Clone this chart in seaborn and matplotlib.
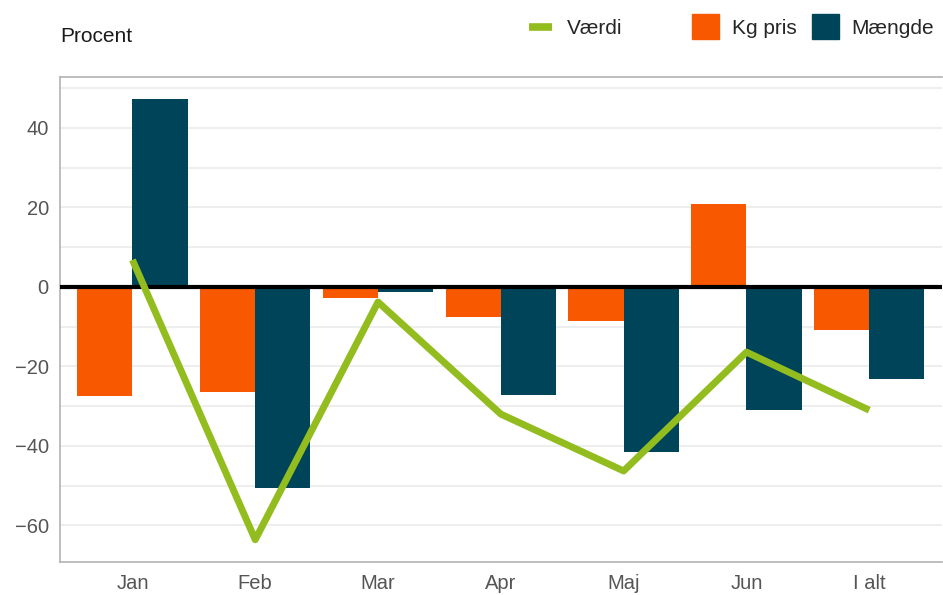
import pandas as pd
import numpy as np
import seaborn as sns
import matplotlib.pyplot as plt
from matplotlib.lines import Line2D
from matplotlib.patches import Patch

months = ["Jan", "Feb", "Mar", "Apr", "Maj", "Jun", "I alt"]
kg_pris = [-27.4, -26.4, -2.8, -7.5, -8.6, 20.9, -10.8]
maengde = [47.3, -50.6, -1.2, -27.2, -41.5, -30.9, -23.1]
vaerdi = [6.8, -63.6, -3.8, -32.0, -46.3, -16.4, -31.0]

ORANGE = "#F85800"
BLUE = "#00445A"
GREEN = "#93BC1E"

df = pd.DataFrame({
    "Måned": months * 2,
    "Procent": kg_pris + maengde,
    "Serie": ["Kg pris"] * len(months) + ["Mængde"] * len(months),
})

sns.set_theme(style="white")
plt.rcParams["font.family"] = ["Liberation Sans", "DejaVu Sans"]

fig = plt.figure(figsize=(9.43, 5.95), dpi=100)
ax = fig.add_axes([0.0636, 0.0555, 0.935, 0.815])

ax.yaxis.grid(True, color="#EBEBEB", linewidth=1.2, zorder=0)
ax.set_axisbelow(True)

sns.barplot(data=df, x="Måned", y="Procent", hue="Serie", order=months,
            hue_order=["Kg pris", "Mængde"], palette=[ORANGE, BLUE],
            width=0.9, saturation=1, legend=False, ax=ax, zorder=2,
            linewidth=0)

ax.axhline(0, color="black", linewidth=3, zorder=3)

sns.lineplot(x=np.arange(len(months)), y=vaerdi, color=GREEN, linewidth=5,
             ax=ax, zorder=4, solid_joinstyle="round", solid_capstyle="butt")

ax.set_ylim(-69.2, 52.8)
ax.set_xlim(-0.59, 6.59)
ax.set_yticks([-60, -40, -20, 0, 20, 40])
ax.set_yticks(np.arange(-60, 51, 10), minor=True)
ax.yaxis.grid(True, which="minor", color="#EBEBEB", linewidth=1.2)
ax.set_yticklabels(["\u221260", "\u221240", "\u221220", "0", "20", "40"])
ax.set_xlabel("")
ax.set_ylabel("")
ax.tick_params(axis="both", labelsize=14.5, colors="#555555", length=0)
ax.tick_params(axis="x", pad=9)
ax.tick_params(axis="y", pad=8)
ax.tick_params(axis="y", which="minor", length=0)

for side in ["left", "bottom", "top"]:
    ax.spines[side].set_visible(True)
    ax.spines[side].set_color("#B3B3B3")
    ax.spines[side].set_linewidth(1.2)
ax.spines["right"].set_visible(False)

fig.text(0.0636, 0.939, "Procent", fontsize=15, color="#1A1A1A", va="center")

fig.legend(handles=[Line2D([0], [0], color=GREEN, linewidth=5.5,
                           solid_capstyle="butt")],
           labels=["Værdi"], loc="center left",
           bbox_to_anchor=(0.561, 0.952), frameon=False, fontsize=15,
           handlelength=1.1, handletextpad=0.7, borderpad=0, borderaxespad=0)
fig.legend(handles=[Patch(color=ORANGE), Patch(color=BLUE)],
           labels=["Kg pris", "Mængde"], loc="center left",
           bbox_to_anchor=(0.734, 0.955), frameon=False, fontsize=15, ncol=2,
           handlelength=1.3, handleheight=1.5, handletextpad=0.6,
           columnspacing=0.75, borderpad=0, borderaxespad=0)

fig.savefig("out.png", dpi=100)
